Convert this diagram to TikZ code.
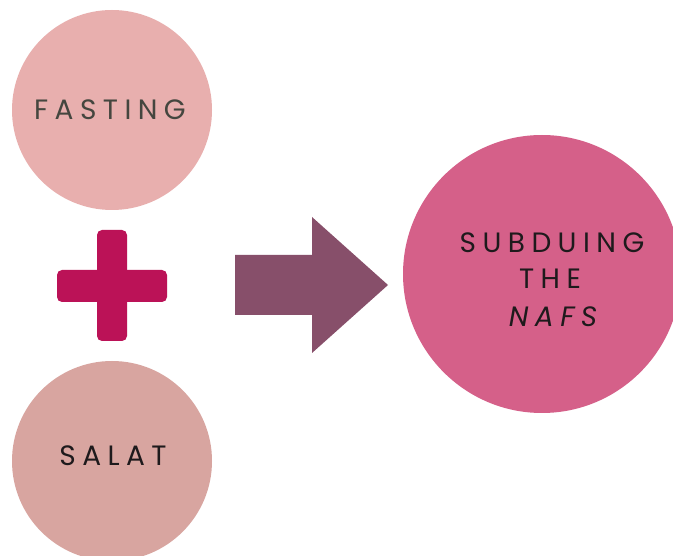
\documentclass[tikz,border=0pt]{standalone}
\usepackage{fontspec}
\setmainfont{Poppins}[LetterSpace=23]
\definecolor{fastpink}{HTML}{E8AFAE}
\definecolor{salatpink}{HTML}{D8A5A0}
\definecolor{nafspink}{HTML}{D56089}
\definecolor{crosscol}{HTML}{BB1257}
\definecolor{arrowcol}{HTML}{874F6A}
\definecolor{textgrey}{HTML}{45463F}
\definecolor{textdark}{HTML}{1E1A1C}
\tikzset{
  disc/.style={circle, inner sep=0pt, minimum size=#1},
  label text/.style={inner sep=0pt, anchor=base, font=\fontsize{28}{32}\selectfont},
}
\begin{document}
\begin{tikzpicture}[x=1pt, y=-1pt]
  \useasboundingbox[fill=white] (0,0) rectangle (673,556);

  % three discs
  \node[disc=200, fill=fastpink] (fasting) at (112,110) {};
  \node[disc=200, fill=salatpink] (salat) at (112,461) {};
  \node[disc=278, fill=nafspink] (nafs) at (542,274) {};

  % plus sign between the two left discs
  \fill[crosscol, rounded corners=5] (97,230) rectangle (127,341);
  \fill[crosscol, rounded corners=5] (57,270) rectangle (167,302);
  \coordinate (plus) at (112,286);

  % block arrow
  \fill[arrowcol] (235,255) -- (312,255) -- (312,217) -- (388,285)
    -- (312,353) -- (312,315) -- (235,315) -- cycle;

  % labels
  \node[label text, text=textgrey] (tfast) at (110,120) {FASTING};
  \node[label text, text=textdark] (tsalat) at (113,465) {SALAT};
  \node[label text, text=textdark] (tsub) at (552,253) {SUBDUING};
  \node[label text, text=textdark] (tthe) at (550,289) {THE};
  \node[label text, text=textdark] (tnafs) at (553,327) {\itshape NAFS};
\end{tikzpicture}
\end{document}
